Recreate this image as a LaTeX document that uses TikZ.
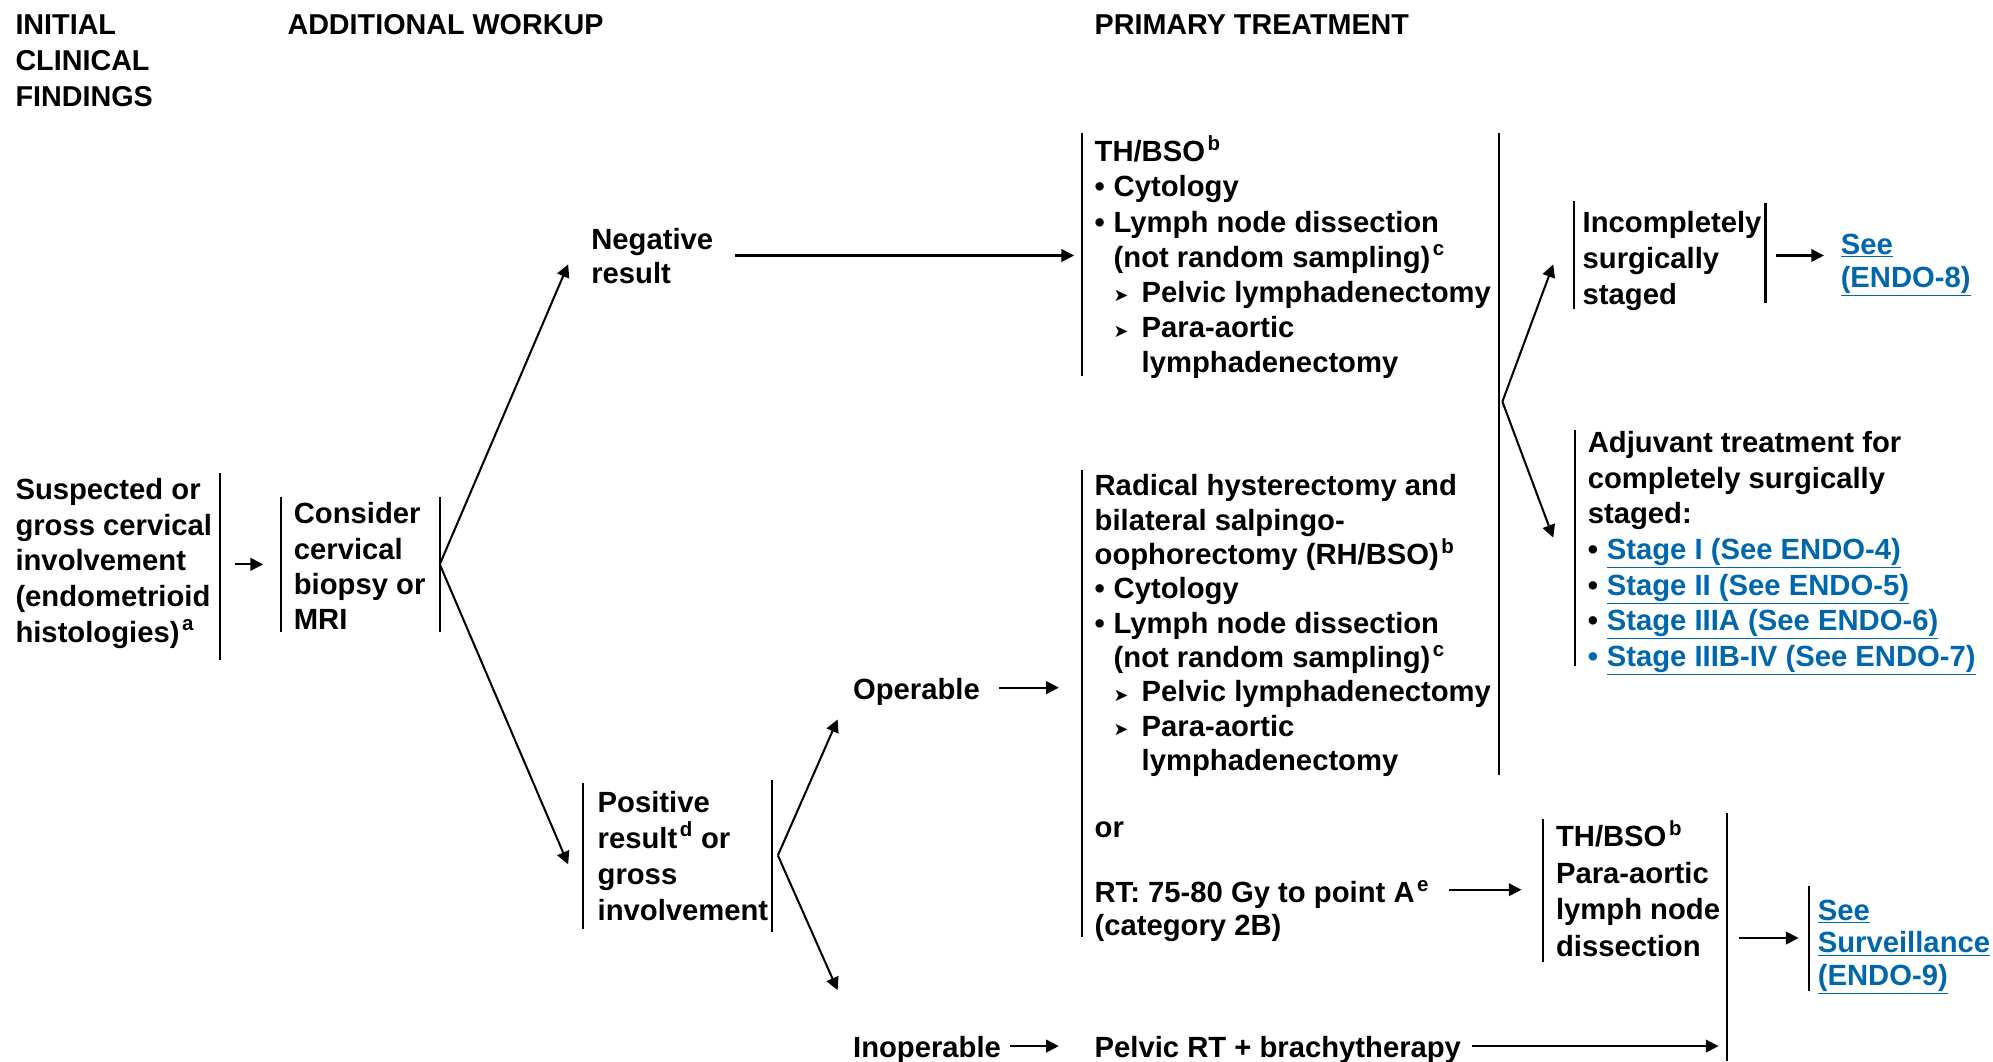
\documentclass[tikz,border=0pt]{standalone}
\usepackage{fontspec}
\setmainfont{Liberation Sans}
\newfontfamily\symfont{DejaVu Sans}
\usetikzlibrary{arrows.meta}
\definecolor{linkblue}{RGB}{0,103,172}
\newcommand\sups[1]{\kern2pt\textsuperscript{#1}}
\newcommand\arb{\makebox[22pt][l]{\raisebox{0.5pt}{\symfont\fontsize{14}{14}\selectfont ➤}}}
\newcommand\blt{\makebox[15pt][l]{•}}
\newcommand\lnk[1]{\textcolor{linkblue}{\underline{#1}}}
\newcommand\fl{\rule{0pt}{24pt}}
\begin{document}
\begin{tikzpicture}[x=1pt,y=-1pt,
  txt/.style={anchor=north west,yshift=24pt,inner sep=0pt,align=left,font=\fontsize{23}{27.7}\selectfont\bfseries},
  hdr/.style={anchor=north west,yshift=24pt,inner sep=0pt,align=left,font=\fontsize{22.6}{28.3}\selectfont\bfseries},
  bar/.style={line width=1.6pt},
  arr/.style={line width=1.6pt,-{Triangle[length=10pt,width=10pt]}}]
\useasboundingbox (0,0) rectangle (1568,835);
% headers
\node[hdr] (h1) at (12,27) {\fl INITIAL\\CLINICAL\\FINDINGS};
\node[hdr] (h2) at (226,27) {\fl ADDITIONAL WORKUP};
\node[hdr] (h3) at (861,27) {\fl PRIMARY TREATMENT};
% text nodes
\node[txt,font=\fontsize{23}{28}\selectfont\bfseries] (susp) at (12,393) {\fl Suspected or\\gross cervical\\involvement\\(endometrioid\\histologies)\sups{a}};
\node[txt] (cons) at (231,412) {\fl Consider\\cervical\\biopsy or\\MRI};
\node[txt,font=\fontsize{23}{26.7}\selectfont\bfseries] (neg) at (465,196) {\fl Negative\\result};
\node[txt] (thbso) at (861,127) {\fl TH/BSO\sups{b}\\
  \blt Cytology\\
  \blt Lymph node dissection\\
  \hspace*{15pt}(not random sampling)\sups{c}\\
  \hspace*{15pt}\arb Pelvic lymphadenectomy\\
  \hspace*{15pt}\arb Para-aortic\\
  \hspace*{37pt}lymphadenectomy};
\node[txt,font=\fontsize{23}{28}\selectfont\bfseries] (inc) at (1245,183) {\fl Incompletely\\surgically\\staged};
\node[txt,font=\fontsize{23}{26}\selectfont\bfseries] (see8) at (1448,200) {\fl\lnk{See}\\\lnk{(ENDO-8)}};
\node[txt,font=\fontsize{23}{28}\selectfont\bfseries] (adj) at (1249,356) {\fl Adjuvant treatment for\\completely surgically\\staged:\\
  \makebox[15pt][l]{•}\lnk{Stage I (See ENDO-4)}\\
  \makebox[15pt][l]{•}\lnk{Stage II (See ENDO-5)}\\
  \makebox[15pt][l]{•}\lnk{Stage IIIA (See ENDO-6)}\\
  \makebox[15pt][l]{\textcolor{linkblue}{•}}\lnk{Stage IIIB-IV (See ENDO-7)}};
\node[txt,font=\fontsize{23}{28.3}\selectfont\bfseries] (pos) at (470,639) {\fl Positive\\result\sups{d} or\\gross\\involvement};
\node[txt] (oper) at (671,550) {\fl Operable};
\node[txt,font=\fontsize{23}{27}\selectfont\bfseries] (rh) at (861,390) {\fl Radical hysterectomy and\\bilateral salpingo-\\oophorectomy (RH/BSO)\sups{b}\\
  \blt Cytology\\
  \blt Lymph node dissection\\
  \hspace*{15pt}(not random sampling)\sups{c}\\
  \hspace*{15pt}\arb Pelvic lymphadenectomy\\
  \hspace*{15pt}\arb Para-aortic\\
  \hspace*{37pt}lymphadenectomy};
\node[txt] (or) at (861,659) {\fl or};
\node[txt,font=\fontsize{23}{26}\selectfont\bfseries] (rt) at (861,710) {\fl RT: 75-80 Gy to point A\sups{e}\\(category 2B)};
\node[txt,font=\fontsize{23}{28.7}\selectfont\bfseries] (thbso2) at (1224,666) {\fl TH/BSO\sups{b}\\Para-aortic\\lymph node\\dissection};
\node[txt,font=\fontsize{23}{25.5}\selectfont\bfseries] (surv) at (1430,724) {\fl\lnk{See}\\\lnk{Surveillance}\\\lnk{(ENDO-9)}};
\node[txt] (inop) at (671,832) {\fl Inoperable};
\node[txt] (pelv) at (861,832) {\fl Pelvic RT + brachytherapy};
% bars
\draw[bar] (173,372) -- (173,519);
\draw[bar] (221,391) -- (221,497);
\draw[bar] (346,391) -- (346,497);
\draw[bar] (851,105) -- (851,296);
\draw[bar] (1179,105) -- (1179,610);
\draw[bar] (1238,158) -- (1238,243);
\draw[bar] (1389,160) -- (1389,238);
\draw[bar] (1239,338) -- (1239,524);
\draw[bar] (459,616) -- (459,731);
\draw[bar] (607,614) -- (607,733);
\draw[bar] (851,370) -- (851,737);
\draw[bar] (1214,644) -- (1214,757);
\draw[bar] (1359,640) -- (1359,835);
\draw[bar] (1423,697) -- (1423,780);
% connector coordinates
\coordinate (a1) at (185,444); \coordinate (a1e) at (207,444);
\coordinate (c1) at (346,444);
\coordinate (negin) at (447,208); \coordinate (posin) at (447,680);
\coordinate (negout) at (578,201); \coordinate (thin) at (845,201);
\coordinate (bigout) at (1182,316);
\coordinate (incin) at (1222,208); \coordinate (adjin) at (1222,423);
\coordinate (incout) at (1397,201); \coordinate (see8in) at (1435,201);
\coordinate (posout) at (612,673);
\coordinate (operin) at (659,566); \coordinate (inopin) at (659,779);
\coordinate (operout) at (786,541); \coordinate (rhin) at (833,541);
\coordinate (rtout) at (1140,700); \coordinate (th2in) at (1197,700);
\coordinate (survout) at (1368,738); \coordinate (survin) at (1415,738);
\coordinate (inopout) at (795,823); \coordinate (pelvin) at (833,823);
\coordinate (pelvout) at (1158,823); \coordinate (rvin) at (1352,823);
% arrows
\draw[arr] (a1) -- (a1e);
\draw[arr] (c1) -- (negin);
\draw[arr] (c1) -- (posin);
\draw[arr] (negout) -- (thin);
\draw[arr] (bigout) -- (incin);
\draw[arr] (bigout) -- (adjin);
\draw[arr] (incout) -- (see8in);
\draw[arr] (posout) -- (operin);
\draw[arr] (posout) -- (inopin);
\draw[arr] (operout) -- (rhin);
\draw[arr] (rtout) -- (th2in);
\draw[arr] (survout) -- (survin);
\draw[arr] (inopout) -- (pelvin);
\draw[arr] (pelvout) -- (rvin);
\end{tikzpicture}
\end{document}
